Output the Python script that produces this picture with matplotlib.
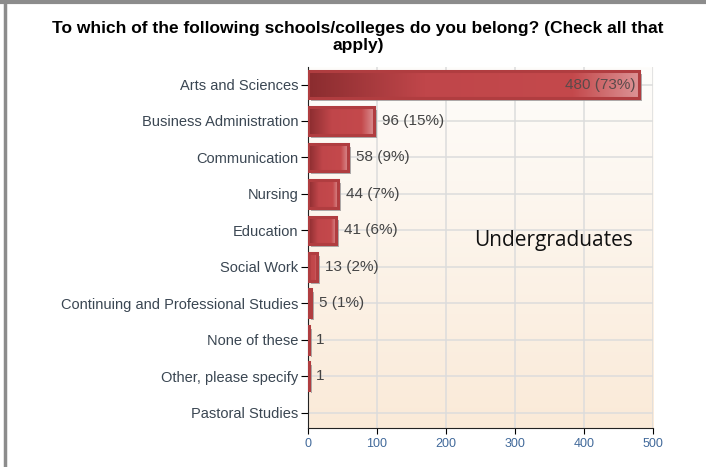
import matplotlib.pyplot as plt
import matplotlib.transforms as mtransforms
from matplotlib.colors import LinearSegmentedColormap
from matplotlib.patches import Rectangle
from matplotlib.lines import Line2D
import numpy as np

schools = ["Arts and Sciences", "Business Administration", "Communication",
           "Nursing", "Education", "Social Work",
           "Continuing and Professional Studies", "None of these",
           "Other, please specify", "Pastoral Studies"]
counts = [480, 96, 58, 44, 41, 13, 5, 1, 1, 0]
value_labels = ["480 (73%)", "96 (15%)", "58 (9%)", "44 (7%)", "41 (6%)",
                "13 (2%)", "5 (1%)", "1", "1", ""]
x_ticks = [0, 100, 200, 300, 400, 500]

plt.rcParams['font.family'] = ['Liberation Sans', 'DejaVu Sans']

fig = plt.figure(figsize=(7.06, 4.67), dpi=100)
ax = fig.add_axes([0.4363, 0.0835, 0.4887, 0.773])

ax.set_xlim(0, 500)
ax.set_ylim(9.42, -0.48)

# background gradient
bg = LinearSegmentedColormap.from_list("bg", ["#fefdfb", "#faead8"])
ax.imshow(np.linspace(0, 1, 256).reshape(-1, 1), cmap=bg, aspect='auto',
          extent=(0, 500, 9.42, -0.48), zorder=0)

ax.set_xticks(x_ticks)
ax.set_yticks(range(len(schools)))
ax.set_yticklabels(schools)
ax.grid(True, color="#dcdcdc", linewidth=1.1, zorder=1)
ax.set_axisbelow(True)

bar_cmap = LinearSegmentedColormap.from_list(
    "bar", [(0, "#8a2c2f"), (0.35, "#c0464a"), (0.8, "#c4494c"), (1, "#dc9496")])
grad = np.linspace(0, 1, 256).reshape(1, -1)
shadow_tr = mtransforms.offset_copy(ax.transData, fig, x=3, y=-3, units='dots')
h = 0.76

for i, v in enumerate(counts):
    if v <= 0:
        continue
    ax.add_patch(Rectangle((0, i - h / 2), v, h, transform=shadow_tr,
                           facecolor="#9a9a9a", edgecolor="none", alpha=0.8, zorder=2))
    ax.imshow(grad, cmap=bar_cmap, aspect='auto',
              extent=(0, v, i + h / 2, i - h / 2), zorder=3)
    ax.add_patch(Rectangle((0, i - h / 2), v, h, facecolor="none",
                           edgecolor="#b03d40", linewidth=2.2, zorder=4))
    lbl = value_labels[i]
    if v > 300:
        ax.text(v - 6, i, lbl, ha='right', va='center', fontsize=11,
                color="#5a4a4a", zorder=5)
    else:
        ax.text(v + 11, i, lbl, ha='left', va='center', fontsize=11,
                color="#444444", zorder=5)

ax.set_xlim(0, 500)
ax.set_ylim(9.42, -0.48)

for s in ["top", "right"]:
    ax.spines[s].set_visible(False)
ax.spines["left"].set_color("#222222")
ax.spines["bottom"].set_color("#222222")
ax.tick_params(axis='y', labelsize=10.5, labelcolor="#3a4652", length=5, pad=2)
ax.tick_params(axis='x', labelsize=9, labelcolor="#41699a", length=4, pad=3)

ax.text(0.48, 0.505, "Undergraduates", transform=ax.transAxes, fontsize=15,
        family=['Open Sans', 'DejaVu Sans'], color="#111111", zorder=6)

fig.text(0.507, 0.94, "To which of the following schools/colleges do you belong? (Check all that",
         ha='center', va='center', fontsize=12.5, fontweight='bold')
fig.text(0.507, 0.903, "apply)", ha='center', va='center', fontsize=12.5, fontweight='bold')

# outer frame lines
fig.add_artist(Line2D([0, 1], [0.996, 0.996], transform=fig.transFigure,
                      color="#8c8c8c", linewidth=3))
fig.add_artist(Line2D([0.0075, 0.0075], [0, 1], transform=fig.transFigure,
                      color="#8c8c8c", linewidth=2.5))

plt.savefig("out.png", dpi=100)
